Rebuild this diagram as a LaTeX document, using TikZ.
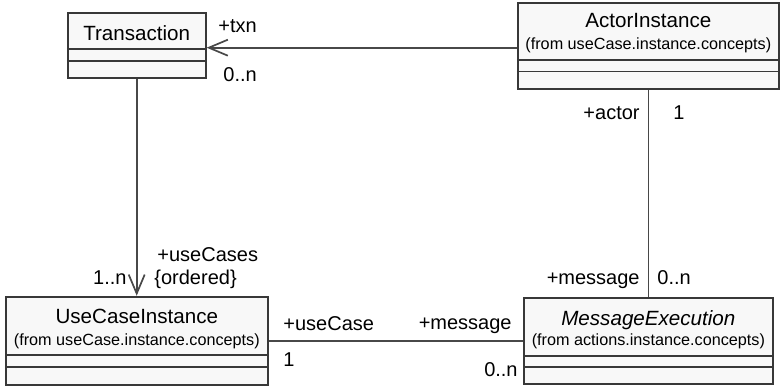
\documentclass[tikz,border=0pt]{standalone}
\usepackage{fontspec}
\setmainfont{Liberation Sans}
\usetikzlibrary{arrows.meta}
\definecolor{boxfill}{HTML}{F8F8F8}
\definecolor{boxline}{HTML}{383838}
\definecolor{linkline}{HTML}{484848}
\begin{document}
\begin{tikzpicture}[x=0.5pt,y=-0.5pt,
  classbox/.style={draw=boxline, fill=boxfill, line width=0.95pt, rectangle, inner sep=0pt},
  divider/.style={draw=boxline, line width=0.8pt},
  cname/.style={anchor=base, inner sep=0pt, font=\fontsize{10.3}{12}\selectfont},
  cfrom/.style={anchor=base, inner sep=0pt, font=\fontsize{8.1}{10}\selectfont},
  lbl/.style={inner sep=0pt, font=\fontsize{10}{12}\selectfont},
  assoc/.style={draw=linkline, line width=0.85pt},
  navig/.style={assoc, -{Straight Barb[length=9.5pt,width=8pt,line width=0.85pt]}}]
\useasboundingbox (0,0) rectangle (780,389);

% class boxes
\node[classbox, minimum width=69pt, minimum height=32.2pt] (trans) at (136.7,45.5) {};
\node[classbox, minimum width=130.6pt, minimum height=42.85pt] (actor) at (648.35,46.15) {};
\node[classbox, minimum width=130.85pt, minimum height=44.15pt] (usecase) at (136.85,340.85) {};
\node[classbox, minimum width=124.35pt, minimum height=43.3pt] (msg) at (648.35,341) {};

% compartment dividers
\draw[divider] (trans.west |- 0,49.3) -- (trans.east |- 0,49.3);
\draw[divider] (trans.west |- 0,61) -- (trans.east |- 0,61);
\draw[divider] (actor.west |- 0,60) -- (actor.east |- 0,60);
\draw[divider] (actor.west |- 0,71.7) -- (actor.east |- 0,71.7);
\draw[divider] (usecase.west |- 0,355) -- (usecase.east |- 0,355);
\draw[divider] (usecase.west |- 0,366.7) -- (usecase.east |- 0,366.7);
\draw[divider] (msg.west |- 0,356) -- (msg.east |- 0,356);
\draw[divider] (msg.west |- 0,366.7) -- (msg.east |- 0,366.7);

% class names and packages
\node[cname] (transname) at (136.7,40.7) {Transaction};
\node[cname] (actorname) at (648.35,28) {ActorInstance};
\node[cfrom] (actorfrom) at (648.35,50) {(from useCase.instance.concepts)};
\node[cname] (usecasename) at (136.85,323) {UseCaseInstance};
\node[cfrom] (usecasefrom) at (136.85,345) {(from useCase.instance.concepts)};
\node[cname] (msgname) at (648.35,325.7) {\itshape MessageExecution};
\node[cfrom] (msgfrom) at (648.35,345) {(from actions.instance.concepts)};

% associations
\coordinate (txnrow) at (0,47.7);
\draw[navig] (actor.west |- txnrow) -- (trans.east |- txnrow);
\draw[navig] (trans.south) -- (usecase.north -| trans.south);
\draw[assoc] (actor.south) -- (msg.north -| actor.south);
\draw[assoc] (usecase.east) -- (msg.west |- usecase.east);

% role names and multiplicities
\node[lbl, anchor=base west] (txnrole) at (218,33) {+txn};
\node[lbl, anchor=base west] (txnmult) at (223,81.7) {0..n};
\node[lbl, anchor=base east] (actorrole) at (640,120) {+actor};
\node[lbl, anchor=base west] (actormult) at (673,120) {1};
\node[lbl, anchor=base west] (ucsrole) at (157,261.7) {+useCases};
\node[lbl, anchor=base west] (ucsorder) at (154,284.3) {\{ordered\}};
\node[lbl, anchor=base east] (ucsmult) at (127,285) {1..n};
\node[lbl, anchor=base west] (ucrole) at (283,330) {+useCase};
\node[lbl, anchor=base west] (ucmult) at (283,366.7) {1};
\node[lbl, anchor=base east] (msgrole) at (512,329.3) {+message};
\node[lbl, anchor=base east] (msgmult) at (518,376.7) {0..n};
\node[lbl, anchor=base east] (amsgrole) at (640,284.3) {+message};
\node[lbl, anchor=base west] (amsgmult) at (657,284.3) {0..n};
\end{tikzpicture}
\end{document}
